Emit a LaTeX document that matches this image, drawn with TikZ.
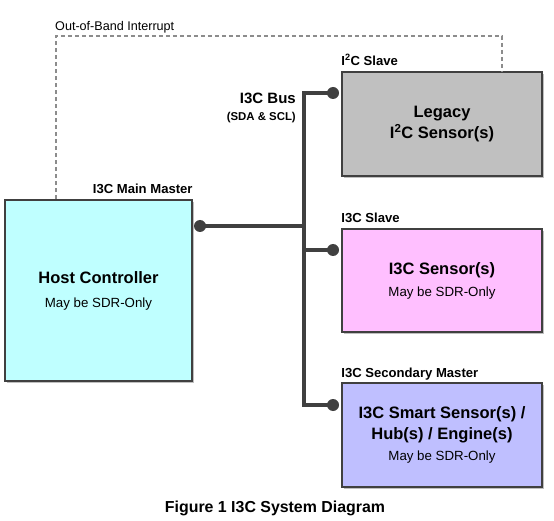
\documentclass[tikz,border=0pt]{standalone}
\usepackage{fontspec}
\setmainfont{Liberation Sans}
\usetikzlibrary{shadows}
\definecolor{edge}{HTML}{404040}
\definecolor{hostfill}{HTML}{BFFFFF}
\definecolor{legacyfill}{HTML}{C0C0C0}
\definecolor{slavefill}{HTML}{FFBFFF}
\definecolor{smartfill}{HTML}{BFBFFF}
\definecolor{dashgray}{HTML}{8C8C8C}
\newcommand{\sdronly}{{\fontsize{13.3}{16}\selectfont\mdseries May be SDR-Only}}

\begin{document}
\begin{tikzpicture}[x=1pt, y=-1pt,
  box/.style={rectangle, draw=edge, line width=1.6pt, fill=#1, align=center,
    minimum width=200pt, minimum height=104pt, inner sep=0pt,
    drop shadow={shadow xshift=2pt, shadow yshift=-2pt, fill=black!25, opacity=1},
    font=\fontsize{16.5}{21}\selectfont\bfseries},
  role/.style={font=\fontsize{13.1}{15}\selectfont\bfseries, anchor=base west, inner sep=0pt},
  bus/.style={draw=edge, line width=3.5pt},
  tap/.style={circle, fill=edge, inner sep=0pt, minimum size=12pt},
  oob/.style={draw=dashgray, line width=2.4pt, dash pattern=on 4pt off 3pt}
]
\useasboundingbox (0,0) rectangle (554,521);

% boxes
\node[box=hostfill, minimum width=187pt, minimum height=181pt] (host) at (98.5,290.5)
  {Host Controller\\[3pt]\sdronly};
\node[box=legacyfill] (legacy) at (442,124) {Legacy\\I\textsuperscript{2}C Sensor(s)};
\node[box=slavefill, minimum height=103pt] (sensor) at (442,280.5)
  {I3C Sensor(s)\\[1pt]\sdronly};
\node[box=smartfill] (smart) at (442,435)
  {I3C Smart Sensor(s) /\\Hub(s) / Engine(s)\\\sdronly};

% role labels
\node[role, anchor=base east] (mainlbl) at ([yshift=6pt]host.north east) {I3C Main Master};
\node[role] (i2clbl) at ([yshift=6pt]legacy.north west) {I\textsuperscript{2}C Slave};
\node[role] (slavelbl) at ([yshift=6pt]sensor.north west) {I3C Slave};
\node[role] (seclbl) at ([yshift=5pt]smart.north west) {I3C Secondary Master};

% bus
\coordinate (bustop) at (304,93);
\coordinate (busbot) at (304,405);
\node[tap] (taphost) at (200,226) {};
\node[tap] (taplegacy) at (333,93) {};
\node[tap] (tapsensor) at (333,250) {};
\node[tap] (tapsmart) at (333,405) {};
\draw[bus] (taplegacy.center) -- (bustop) -- (busbot) -- (tapsmart.center);
\draw[bus] (taphost.center) -- (taphost -| bustop);
\draw[bus] (tapsensor.center) -- (tapsensor -| bustop);
\node[anchor=base east, inner sep=0pt, font=\fontsize{15}{18}\selectfont\bfseries]
  (buslbl) at (296,104) {I3C Bus};
\node[anchor=base east, inner sep=0pt, font=\fontsize{11.4}{14}\selectfont\bfseries]
  (bussig) at (296,121) {(SDA \& SCL)};

% out-of-band interrupt
\coordinate (oobL) at (56,36);
\coordinate (oobR) at (502,36);
\draw[oob] (host.north -| oobL) -- (oobL) -- (oobR) -- (legacy.north -| oobR);
\node[anchor=base west, inner sep=0pt, font=\fontsize{12.6}{15}\selectfont]
  (ooblbl) at (55,30.5) {Out-of-Band Interrupt};

\node[font=\fontsize{15.9}{18}\selectfont\bfseries] (caption) at (275,508)
  {Figure 1 I3C System Diagram};
\end{tikzpicture}
\end{document}
